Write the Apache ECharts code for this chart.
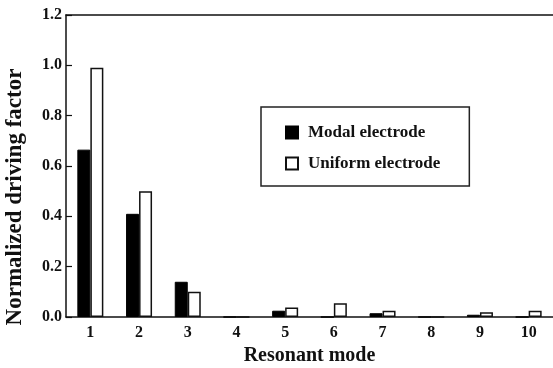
<!DOCTYPE html>
<html>
<head>
<meta charset="utf-8">
<script src="https://cdn.jsdelivr.net/npm/echarts@6/dist/echarts.min.js"></script>
<style>
  html, body { margin: 0; padding: 0; background: #fff; }
  #chart { width: 553px; height: 368px; }
</style>
</head>
<body>
<div id="chart"></div>
<script>
// Resonant modes on the x axis
const modes = ['1', '2', '3', '4', '5', '6', '7', '8', '9', '10'];
// Normalized driving factor for each electrode layout
const modalElectrode   = [0.665, 0.41, 0.14, 0, 0.025, 0, 0.015, 0, 0.009, 0];
const uniformElectrode = [0.99, 0.50, 0.10, 0, 0.038, 0.055, 0.025, 0, 0.019, 0.025];
// Value axis range
const yMin = 0, yMax = 1.2, yStep = 0.2;

const FONT = '"Liberation Serif", "DejaVu Serif", serif';
const INK = '#111';

const chart = echarts.init(document.getElementById('chart'), null, { renderer: 'canvas' });

chart.setOption({
  animation: false,
  backgroundColor: '#fff',
  grid: { left: 66, right: 0, top: 15, bottom: 51, containLabel: false, outerBoundsMode: 'none' },
  legend: {
    orient: 'vertical',
    left: 261,
    top: 107,
    padding: [17, 29, 14, 24],
    itemWidth: 12,
    itemHeight: 12,
    itemGap: 14,
    borderColor: '#222',
    borderWidth: 1.5,
    borderRadius: 0,
    icon: 'rect',
    textStyle: { fontFamily: FONT, fontWeight: 'bold', fontSize: 17, color: '#111', padding: [0, 0, 0, 5] },
    data: ['Modal electrode', 'Uniform electrode']
  },
  xAxis: [
    {
      type: 'category',
      data: modes,
      boundaryGap: true,
      name: 'Resonant mode',
      nameLocation: 'middle',
      nameGap: 29,
      nameTextStyle: { fontFamily: FONT, fontWeight: 'bold', fontSize: 20, color: INK },
      axisLine: { lineStyle: { color: INK, width: 1.5 } },
      axisTick: { inside: true, alignWithLabel: true, length: 7, lineStyle: { color: INK, width: 1.2 } },
      axisLabel: { fontFamily: FONT, fontWeight: 'bold', fontSize: 16, color: INK, margin: 8 },
      splitLine: { show: false }
    },
    {
      type: 'category',
      data: modes,
      position: 'top',
      axisLine: { lineStyle: { color: INK, width: 1.5 } },
      axisTick: { show: false },
      axisLabel: { show: false },
      splitLine: { show: false }
    }
  ],
  yAxis: {
    type: 'value',
    min: yMin,
    max: yMax,
    interval: yStep,
    name: 'Normalized driving factor',
    nameLocation: 'middle',
    nameGap: 39,
    nameTextStyle: { fontFamily: FONT, fontWeight: 'bold', fontSize: 23, color: INK, padding: [0, 62, 0, 0] },
    axisLine: { show: true, lineStyle: { color: INK, width: 1.5 } },
    axisTick: { show: true, inside: true, length: 6, lineStyle: { color: INK, width: 1.2 } },
    axisLabel: {
      fontFamily: FONT, fontWeight: 'bold', fontSize: 16, color: INK, margin: 4,
      formatter: v => v.toFixed(1)
    },
    splitLine: { show: false }
  },
  series: [
    {
      name: 'Modal electrode',
      type: 'bar',
      data: modalElectrode,
      barWidth: 13,
      barGap: '0%',
      itemStyle: { color: '#000', borderColor: '#000', borderWidth: 1 }
    },
    {
      name: 'Uniform electrode',
      type: 'bar',
      data: uniformElectrode,
      barWidth: 13,
      barGap: '0%',
      itemStyle: { color: '#fff', borderColor: '#111', borderWidth: 1.5 }
    }
  ]
});
</script>
</body>
</html>
